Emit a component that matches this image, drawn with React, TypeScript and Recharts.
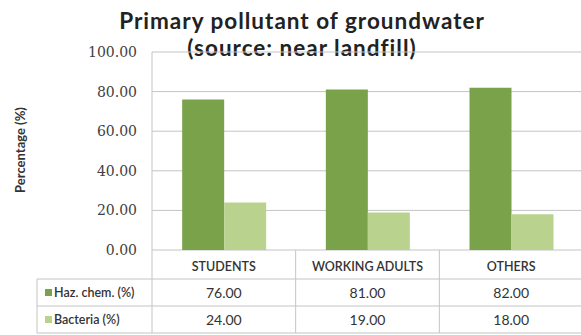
import React from 'react';
import { BarChart, Bar, XAxis, YAxis, CartesianGrid } from 'recharts';

const categories = ['STUDENTS', 'WORKING ADULTS', 'OTHERS'];
const hazChem = [76, 81, 82];
const bacteria = [24, 19, 18];
const yTicks = [0, 20, 40, 60, 80, 100];
const seriesNames = ['Haz. chem. (%)', 'Bacteria (%)'];
const titleLines = ['Primary pollutant of groundwater', '(source: near landfill)'];

const DARK = '#7aa24a';
const LIGHT = '#b9d38f';
const LINE = '#c4c4c4';

const CHART_W = 590;
const CHART_H = 335;
const MARGIN = { top: 52, right: 7, bottom: 0, left: 92 };
const Y_AXIS_W = 60;
const X_AXIS_H = 85;
const PLOT_W = CHART_W - MARGIN.left - MARGIN.right - Y_AXIS_W;
const BAND = PLOT_W / categories.length;

// table row edges, relative to the bottom of the plot
const ROW_EDGES = [0, 29, 56, 83];
const LABEL_COL_LEFT = 37;

const data = categories.map((name, i) => ({
  name,
  haz: hazChem[i],
  bacteria: bacteria[i],
}));

const sans = 'Lato, "Open Sans", sans-serif';

const TableTick = (props: any) => {
  const { x, y, payload, index } = props;
  const half = BAND / 2;
  const left = x - half;
  const right = x + half;
  const rowVals = [hazChem[index], bacteria[index]];
  const colours = [DARK, LIGHT];
  return (
    <g>
      <line x1={left} y1={y} x2={left} y2={y + ROW_EDGES[3]} stroke={LINE} />
      {index === categories.length - 1 && (
        <line x1={right} y1={y} x2={right} y2={y + ROW_EDGES[3]} stroke={LINE} />
      )}
      {ROW_EDGES.slice(1).map((e) => (
        <line key={e} x1={left} y1={y + e} x2={right} y2={y + e} stroke={LINE} />
      ))}
      <text
        x={x}
        y={y + 21}
        textAnchor="middle"
        fontFamily={sans}
        fontSize={12.5}
        fontWeight={600}
        fill="#333"
      >
        {payload.value}
      </text>
      {rowVals.map((v, r) => (
        <text
          key={r}
          x={x}
          y={y + ROW_EDGES[r + 1] + 19}
          textAnchor="middle"
          fontFamily={sans}
          fontSize={14}
          fill="#333"
        >
          {v.toFixed(2)}
        </text>
      ))}
      {index === 0 && (
        <g>
          <line x1={LABEL_COL_LEFT} y1={y + ROW_EDGES[1]} x2={LABEL_COL_LEFT} y2={y + ROW_EDGES[3]} stroke={LINE} />
          {ROW_EDGES.slice(1).map((e) => (
            <line key={e} x1={LABEL_COL_LEFT} y1={y + e} x2={left} y2={y + e} stroke={LINE} />
          ))}
          {seriesNames.map((s, r) => (
            <g key={s}>
              <rect x={45} y={y + ROW_EDGES[r + 1] + 10} width={7} height={7} fill={colours[r]} />
              <text
                x={54}
                y={y + ROW_EDGES[r + 1] + 18}
                fontFamily={sans}
                fontSize={12.5}
                fontWeight={600}
                fill="#333"
              >
                {s}
              </text>
            </g>
          ))}
        </g>
      )}
    </g>
  );
};

export default function App() {
  return (
    <div style={{ position: 'absolute', left: 0, top: 0, width: 581, height: 335, overflow: 'hidden', background: '#fff' }}>
      {titleLines.map((t, i) => (
        <div
          key={t}
          style={{
            position: 'absolute',
            left: 0,
            top: 7 + i * 27,
            width: 604,
            textAlign: 'center',
            fontFamily: sans,
            fontWeight: 700,
            fontSize: 22.5,
            lineHeight: 'normal',
            letterSpacing: 1,
            whiteSpace: 'nowrap',
            color: '#222',
          }}
        >
          {t}
        </div>
      ))}
      <div
        style={{
          position: 'absolute',
          left: 20,
          top: 150,
          transform: 'translate(-50%, -50%) rotate(-90deg)',
          whiteSpace: 'nowrap',
          fontFamily: sans,
          fontWeight: 700,
          fontSize: 13,
          color: '#333',
        }}
      >
        Percentage (%)
      </div>
      <div style={{ position: 'absolute', left: 0, top: 0 }}>
        <BarChart width={CHART_W} height={CHART_H} data={data} margin={MARGIN} barCategoryGap="21%" barGap={0}>
          <CartesianGrid vertical={false} stroke={LINE} />
          <XAxis
            dataKey="name"
            height={X_AXIS_H}
            axisLine={false}
            tickLine={false}
            tickSize={0}
            tickMargin={0}
            interval={0}
            tick={<TableTick />}
          />
          <YAxis
            width={Y_AXIS_W}
            domain={[0, 100]}
            ticks={yTicks}
            axisLine={{ stroke: LINE }}
            tickLine={false}
            tickSize={0}
            tickMargin={15}
            tickFormatter={(v: number) => v.toFixed(2)}
            tick={{ fontFamily: '"DejaVu Serif", serif', fontSize: 14, fill: '#404040' }}
          />
          <Bar dataKey="haz" fill={DARK} isAnimationActive={false} />
          <Bar dataKey="bacteria" fill={LIGHT} isAnimationActive={false} />
        </BarChart>
      </div>
    </div>
  );
}
